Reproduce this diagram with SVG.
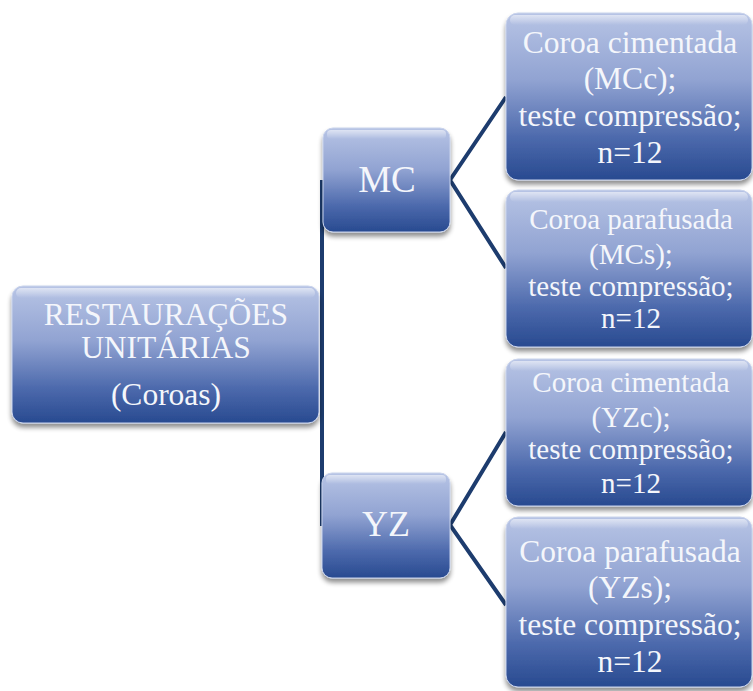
<svg xmlns="http://www.w3.org/2000/svg" width="753" height="691" viewBox="0 0 753 691">
  <defs>
    <linearGradient id="boxFill" x1="0" y1="0" x2="0" y2="1">
      <stop offset="0" stop-color="#b7c4e5"/>
      <stop offset="0.4" stop-color="#91a3d2"/>
      <stop offset="0.75" stop-color="#4c69ac"/>
      <stop offset="1" stop-color="#284a90"/>
    </linearGradient>
    <linearGradient id="gloss" x1="0" y1="0" x2="0" y2="1">
      <stop offset="0" stop-color="#ffffff" stop-opacity="0.55"/>
      <stop offset="1" stop-color="#ffffff" stop-opacity="0"/>
    </linearGradient>
    <filter id="shadow" x="-10%" y="-10%" width="120%" height="130%">
      <feGaussianBlur in="SourceAlpha" stdDeviation="2.5"/>
      <feOffset dx="0" dy="4" result="b"/>
      <feComponentTransfer><feFuncA type="linear" slope="0.45"/></feComponentTransfer>
      <feMerge><feMergeNode/><feMergeNode in="SourceGraphic"/></feMerge>
    </filter>
  </defs>
  <style>
    .box { fill: url(#boxFill); stroke: #c9d3ec; stroke-width: 1; filter: url(#shadow); }
    .gl { fill: url(#gloss); }
    .t { font-family: "Liberation Serif", "Times New Roman", serif; fill: #f4f6fb; text-anchor: middle; }
    .conn { stroke: #1d3c6e; stroke-width: 4; fill: none; stroke-linecap: butt; stroke-linejoin: miter; }
  </style>
  <rect width="753" height="691" fill="#ffffff"/>

  <g id="connectors">
    <line class="conn" x1="322" y1="180" x2="322" y2="526"/>
    <polyline class="conn" points="506,97 450,180 506,268"/>
    <polyline class="conn" points="506,432 450,525 506,605"/>
  </g>

  <g id="root">
    <rect class="box" x="12" y="286" width="307" height="137" rx="11"/>
    <rect class="gl" x="16" y="288" width="299" height="10" rx="5"/>
    <text class="t" font-size="31.5" x="166" y="325">RESTAURAÇÕES</text>
    <text class="t" font-size="31.5" x="166" y="358">UNITÁRIAS</text>
    <text class="t" font-size="31.5" x="166" y="405">(Coroas)</text>
  </g>

  <g id="mc">
    <rect class="box" x="323" y="128" width="127" height="104" rx="10"/>
    <rect class="gl" x="327" y="130" width="119" height="9" rx="4"/>
    <text class="t" font-size="37" x="387" y="192">MC</text>
  </g>

  <g id="yz">
    <rect class="box" x="322" y="473" width="128" height="105" rx="10"/>
    <rect class="gl" x="326" y="475" width="120" height="9" rx="4"/>
    <text class="t" font-size="36" x="386" y="536">YZ</text>
  </g>

  <g id="mcc">
    <rect class="box" x="506" y="13" width="246" height="167" rx="12"/>
    <rect class="gl" x="510" y="15" width="238" height="10" rx="5"/>
    <text class="t" font-size="31.5" x="630" y="53">Coroa cimentada</text>
    <text class="t" font-size="31.5" x="630" y="89">(MCc);</text>
    <text class="t" font-size="31.5" x="630" y="126">teste compressão;</text>
    <text class="t" font-size="31.5" x="630" y="163">n=12</text>
  </g>

  <g id="mcs">
    <rect class="box" x="506" y="190" width="246" height="157" rx="12"/>
    <rect class="gl" x="510" y="192" width="238" height="10" rx="5"/>
    <text class="t" font-size="29" x="631" y="229">Coroa parafusada</text>
    <text class="t" font-size="29" x="631" y="264">(MCs);</text>
    <text class="t" font-size="29" x="631" y="296">teste compressão;</text>
    <text class="t" font-size="29" x="631" y="328">n=12</text>
  </g>

  <g id="yzc">
    <rect class="box" x="506" y="359" width="246" height="147" rx="12"/>
    <rect class="gl" x="510" y="361" width="238" height="10" rx="5"/>
    <text class="t" font-size="29" x="631" y="392">Coroa cimentada</text>
    <text class="t" font-size="29" x="631" y="427">(YZc);</text>
    <text class="t" font-size="29" x="631" y="459">teste compressão;</text>
    <text class="t" font-size="29" x="631" y="493">n=12</text>
  </g>

  <g id="yzs">
    <rect class="box" x="506" y="517" width="246" height="170" rx="12"/>
    <rect class="gl" x="510" y="519" width="238" height="10" rx="5"/>
    <text class="t" font-size="31.5" x="630" y="562">Coroa parafusada</text>
    <text class="t" font-size="31.5" x="630" y="598">(YZs);</text>
    <text class="t" font-size="31.5" x="630" y="635">teste compressão;</text>
    <text class="t" font-size="31.5" x="630" y="672">n=12</text>
  </g>
</svg>
